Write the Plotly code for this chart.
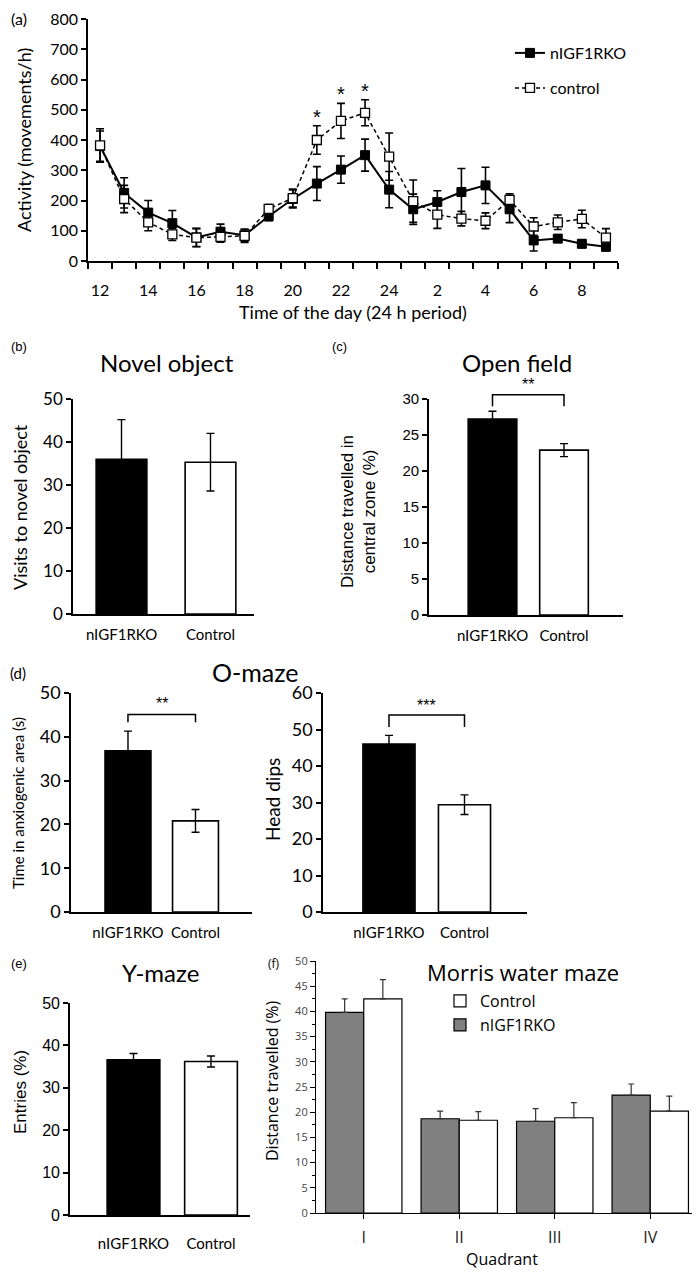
import plotly.graph_objects as go

# ---------------- data ----------------
hours = ["12", "13", "14", "15", "16", "17", "18", "19", "20", "21", "22", "23",
         "24", "1", "2", "3", "4", "5", "6", "7", "8", "9"]
hour_ticktext = [h if int(h) % 2 == 0 else "" for h in hours]
ko_activity = [380, 225, 160, 125, 78, 97, 85, 148, 205, 256, 302, 350,
               236, 171, 195, 228, 250, 171, 68, 74, 57, 47]
ko_activity_err = [50, 50, 40, 42, 30, 25, 20, 15, 30, 56, 45, 53,
                   60, 50, 37, 78, 60, 44, 35, 12, 13, 13]
ctl_activity = [382, 205, 128, 88, 77, 80, 83, 172, 208, 400, 463, 490,
                345, 198, 153, 140, 133, 202, 114, 128, 139, 77]
ctl_activity_err = [55, 45, 28, 20, 30, 18, 22, 15, 30, 47, 58, 43,
                    78, 70, 45, 24, 26, 20, 29, 24, 29, 30]
sig_hours = ["21", "22", "23"]

groups = ["nIGF1RKO", "Control"]
novel_visits = [36.0, 35.3]
novel_err = [9.2, 6.7]
open_field = [27.2, 22.9]
open_field_err = [1.1, 0.9]
omaze_time = [36.8, 20.8]
omaze_time_err = [4.5, 2.6]
head_dips = [46.0, 29.4]
head_dips_err = [2.4, 2.7]
ymaze_entries = [36.6, 36.2]
ymaze_err = [1.5, 1.3]

quadrants = ["I", "II", "III", "IV"]
morris_ko = [39.8, 18.7, 18.2, 23.4]
morris_ko_err = [2.7, 1.5, 2.5, 2.2]
morris_ctl = [42.5, 18.4, 18.9, 20.2]
morris_ctl_err = [3.8, 1.7, 3.0, 3.0]

# ---------------- helpers ----------------
# the page body keeps its default 8px margin on every side, so the figure is
# sized to fill the window exactly inside it
OFF = 8
W, H = 700 - 2 * OFF, 1277 - 2 * OFF


def px(x):
    return min(1.0, max(0.0, (x - OFF) / W))


def py(y):
    return min(1.0, max(0.0, 1 - (y - OFF) / H))


CAL = "Lato, 'Open Sans', sans-serif"
ARI = "'Liberation Sans', Arial, sans-serif"
SEG = "'Open Sans', 'Noto Sans', sans-serif"

fig = go.Figure()

# ---------- panel (a) ----------
fig.add_trace(go.Scatter(
    x=hours, y=ko_activity, mode="lines+markers", name="nIGF1RKO",
    line=dict(color="black", width=2),
    marker=dict(symbol="square", size=9, color="black", line=dict(color="black", width=1)),
    error_y=dict(type="data", array=ko_activity_err, color="black", thickness=1.6, width=4),
    xaxis="x", yaxis="y", legend="legend"))
fig.add_trace(go.Scatter(
    x=hours, y=ctl_activity, mode="lines+markers", name="control",
    line=dict(color="black", width=1.5, dash="4px,3px"),
    marker=dict(symbol="square", size=9, color="white", line=dict(color="black", width=1.3)),
    error_y=dict(type="data", array=ctl_activity_err, color="black", thickness=1.6, width=4),
    xaxis="x", yaxis="y", legend="legend3"))

annotations = []
for h in sig_hours:
    i = hours.index(h)
    annotations.append(dict(x=i, y=ctl_activity[i] + ctl_activity_err[i], xref="x", yref="y",
                            text="*", showarrow=False, yanchor="bottom", yshift=-4,
                            font=dict(family=ARI, size=20, color="black")))


def bar_pair(values, errs, xa, ya, width):
    fig.add_trace(go.Bar(
        x=groups, y=values, width=width,
        marker=dict(color=["black", "white"], line=dict(color="black", width=1.6)),
        error_y=dict(type="data", array=errs, color="black", thickness=1.4, width=4),
        showlegend=False, xaxis=xa, yaxis=ya))


def bracket(values, errs, xa, ya, gap, rise, stars, star_off):
    base = max(v + e for v, e in zip(values, errs)) + gap
    top = base + rise
    fig.add_trace(go.Scatter(
        x=[groups[0], groups[0], groups[1], groups[1]], y=[base, top, top, base],
        mode="lines", line=dict(color="black", width=1.5), showlegend=False,
        hoverinfo="skip", xaxis=xa, yaxis=ya))
    annotations.append(dict(x=0.5, y=top + star_off, xref=xa, yref=ya, text=stars,
                            showarrow=False, yanchor="middle",
                            font=dict(family=ARI, size=16, color="black")))


bar_pair(novel_visits, novel_err, "x2", "y2", 0.57)
bar_pair(open_field, open_field_err, "x3", "y3", 0.68)
bracket(open_field, open_field_err, "x3", "y8", 0.7, 1.6, "**", 1.4)
bar_pair(omaze_time, omaze_time_err, "x4", "y4", 0.68)
bracket(omaze_time, omaze_time_err, "x4", "y4", 2.0, 1.8, "**", 2.6)
bar_pair(head_dips, head_dips_err, "x5", "y5", 0.69)
bracket(head_dips, head_dips_err, "x5", "y5", 2.3, 3.3, "***", 2.6)
bar_pair(ymaze_entries, ymaze_err, "x6", "y6", 0.68)

# ---------- panel (f) ----------
fig.add_trace(go.Bar(
    x=quadrants, y=morris_ko, name="nIGF1RKO",
    marker=dict(color="#808080", line=dict(color="black", width=1.2)),
    error_y=dict(type="data", symmetric=False, array=morris_ko_err, arrayminus=[0] * 4,
                 color="#333333", thickness=1.2, width=3),
    xaxis="x7", yaxis="y7", legend="legend4"))
fig.add_trace(go.Bar(
    x=quadrants, y=morris_ctl, name="Control",
    marker=dict(color="white", line=dict(color="black", width=1.2)),
    error_y=dict(type="data", symmetric=False, array=morris_ctl_err, arrayminus=[0] * 4,
                 color="#333333", thickness=1.2, width=3),
    xaxis="x7", yaxis="y7", legend="legend2"))


# ---------------- axes ----------------
def yax(dom_y, xa, rng, dtick, font, size):
    return dict(domain=dom_y, anchor=xa, range=rng, dtick=dtick, showgrid=False, zeroline=False,
                automargin=False, ticklabeloverflow="allow",
                showline=True, linecolor="black", linewidth=1.6, ticks="outside", ticklen=5,
                tickwidth=1.5, tickcolor="black", tickfont=dict(family=font, size=size, color="black"))


def xax(dom_x, ya, rng, size=15, standoff=6):
    return dict(domain=dom_x, anchor=ya, range=rng, type="category", showgrid=False,
                zeroline=False, showline=True, linecolor="black", linewidth=1.6, ticks="",
                automargin=False, ticklabelstandoff=standoff, ticklabeloverflow="allow",
                tickfont=dict(family=CAL, size=size, color="black"))


# hidden overlay axis for the open-field bracket (same scale as yaxis3, taller domain)
c_bot, c_top, c_ext = 615, 399, 365
c_max = 30 * (c_bot - c_ext) / (c_bot - c_top)

# panel (f) x axis: keep category spacing of the reference, clip at the figure edge
f_left, f_right_ref = 316, 698
f_right = min(f_right_ref, 700 - OFF)
f_range_end = -0.5 + len(quadrants) * (f_right - f_left) / (f_right_ref - f_left)

layout = dict(
    template="none",
    width=W, height=H, margin=dict(l=0, r=0, t=0, b=0, autoexpand=False),
    paper_bgcolor="white", plot_bgcolor="rgba(0,0,0,0)", barmode="group",
    bargap=0.2, bargroupgap=0.0,
    xaxis=dict(domain=[px(88), px(618)], anchor="y", type="category", range=[-0.5, 21.5],
               tickmode="array", tickvals=hours, ticktext=hour_ticktext, tickson="boundaries",
               ticks="outside", ticklen=6, tickwidth=1.5, tickcolor="black", tickangle=0,
               showline=True, linecolor="black", linewidth=1.6, showgrid=False, zeroline=False,
               automargin=False, ticklabeloverflow="allow",
               ticklabelstandoff=14, tickfont=dict(family=CAL, size=16, color="black")),
    yaxis=yax([py(261), py(19)], "x", [0, 800], 100, CAL, 16),
    xaxis2=xax([px(73), px(254)], "y2", [-0.545, 1.489], 15, 6),
    yaxis2=yax([py(614), py(399)], "x2", [0, 50], 10, CAL, 17),
    xaxis3=xax([px(429), px(623)], "y3", [-0.888, 1.825], 15, 6),
    yaxis3=yax([py(615), py(399)], "x3", [0, 30], 5, ARI, 15),
    yaxis8=dict(domain=[py(c_bot), py(c_ext)], anchor="x3", range=[0, c_max], visible=False,
                showgrid=False, zeroline=False, automargin=False),
    xaxis4=xax([px(71), px(252)], "y4", [-0.844, 1.837], 15, 6),
    yaxis4=yax([py(912), py(693)], "x4", [0, 50], 10, CAL, 18),
    xaxis5=xax([px(323), px(527)], "y5", [-0.874, 1.828], 15, 6),
    yaxis5=yax([py(912), py(693)], "x5", [0, 60], 10, CAL, 18),
    xaxis6=xax([px(70), px(250)], "y6", [-0.819, 1.503], 15, 14),
    yaxis6=yax([py(1215), py(1003)], "x6", [0, 50], 10, ARI, 16),
    xaxis7=dict(domain=[px(f_left), px(f_right)], anchor="y7", type="category",
                range=[-0.5, f_range_end],
                showgrid=False, zeroline=False, showline=True, linecolor="black", linewidth=1.2,
                automargin=False, ticklabeloverflow="allow",
                ticks="outside", ticklen=5, tickwidth=1.2, tickcolor="black", ticklabelstandoff=5,
                tickfont=dict(family=SEG, size=16, color="#222")),
    yaxis7=dict(domain=[py(1213), py(961)], anchor="x7", range=[0, 50], dtick=5,
                showgrid=False, zeroline=False, showline=True, linecolor="black", linewidth=1.2,
                automargin=False, ticklabeloverflow="allow",
                ticks="outside", ticklen=5, tickwidth=1.2, tickcolor="black",
                minor=dict(dtick=2.5, ticks="outside", ticklen=3, tickwidth=1, tickcolor="black"),
                tickfont=dict(family=SEG, size=11, color="#444")),
    legend=dict(x=px(510), y=py(53), xanchor="left", yanchor="middle", bgcolor="rgba(0,0,0,0)",
                font=dict(family=CAL, size=16, color="black"), itemwidth=30),
    legend3=dict(x=px(510), y=py(88), xanchor="left", yanchor="middle", bgcolor="rgba(0,0,0,0)",
                 font=dict(family=CAL, size=16, color="black"), itemwidth=30),
    legend2=dict(x=px(440), y=py(1001), xanchor="left", yanchor="middle", bgcolor="rgba(0,0,0,0)",
                 font=dict(family=SEG, size=16, color="black"), itemwidth=30),
    legend4=dict(x=px(440), y=py(1025), xanchor="left", yanchor="middle", bgcolor="rgba(0,0,0,0)",
                 font=dict(family=SEG, size=16, color="black"), itemwidth=30),
)


def txt(x, y, s, family, size, angle=0, xanchor="center"):
    annotations.append(dict(x=px(x), y=py(y), xref="paper", yref="paper", text=s, showarrow=False,
                            xanchor=xanchor, yanchor="middle", textangle=angle,
                            font=dict(family=family, size=size, color="black")))


# panel letters
txt(19, 19, "(a)", CAL, 16)
txt(19, 347, "(b)", ARI, 13)
txt(339, 347, "(c)", ARI, 13)
txt(18, 673, "(d)", CAL, 15)
txt(19, 963, "(e)", ARI, 13)
txt(274, 963, "(f)", SEG, 12)

# titles
txt(167, 362, "Novel object", CAL, 24)
txt(517, 362, "Open field", CAL, 24)
txt(255, 672, "O-maze", CAL, 25)
txt(160, 973, "Y-maze", CAL, 24)
txt(523, 972, "Morris water maze", SEG, 22)

# axis titles
txt(24, 140, "Activity (movements/h)", CAL, 18, -90)
txt(353, 312, "Time of the day (24 h period)", CAL, 18)
txt(20, 507, "Visits to novel object", CAL, 18, -90)
txt(358, 512, "Distance travelled in<br>central zone (%)", ARI, 17, -90)
txt(18, 803, "Time in anxiogenic area (s)", CAL, 15, -90)
txt(272, 800, "Head dips", CAL, 19, -90)
txt(20, 1092, "Entries (%)", ARI, 17, -90)
txt(272, 1081, "Distance travelled (%)", SEG, 16, -90)
txt(502, 1259, "Quadrant", SEG, 16)

layout["annotations"] = annotations
fig.update_layout(**layout)
fig.write_html("out.html")
